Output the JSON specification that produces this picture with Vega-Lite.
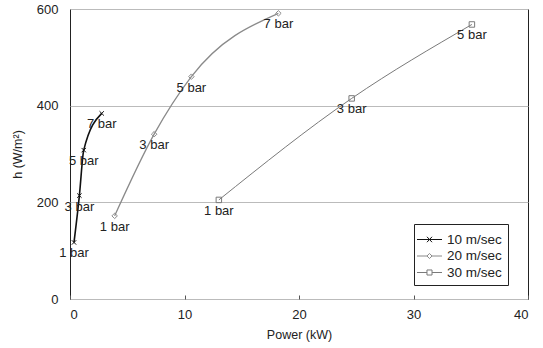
{
  "$schema": "https://vega.github.io/schema/vega-lite/v6.json",
  "width": 458,
  "height": 290,
  "autosize": {"type": "none"},
  "padding": {"left": 70, "top": 9, "right": 15, "bottom": 49},
  "background": "white",
  "config": {
    "font": "Liberation Sans",
    "view": {"stroke": "#222", "strokeWidth": 1},
    "axis": {"labelColor": "#222", "titleColor": "#222", "labelFontSize": 13, "titleFontSize": 12.5, "titleFontWeight": "normal", "domain": false}
  },
  "data": {
    "values": [
      {"series": "10 m/sec", "power": 0.35, "h": 117, "label": "1 bar"},
      {"series": "10 m/sec", "power": 0.82, "h": 214, "label": "3 bar"},
      {"series": "10 m/sec", "power": 1.2, "h": 308, "label": "5 bar"},
      {"series": "10 m/sec", "power": 2.77, "h": 384, "label": "7 bar"},
      {"series": "20 m/sec", "power": 3.9, "h": 172, "label": "1 bar"},
      {"series": "20 m/sec", "power": 7.35, "h": 341, "label": "3 bar"},
      {"series": "20 m/sec", "power": 10.6, "h": 460, "label": "5 bar"},
      {"series": "20 m/sec", "power": 18.2, "h": 591, "label": "7 bar"},
      {"series": "30 m/sec", "power": 13.0, "h": 205, "label": "1 bar"},
      {"series": "30 m/sec", "power": 24.6, "h": 415, "label": "3 bar"},
      {"series": "30 m/sec", "power": 35.1, "h": 568, "label": "5 bar"}
    ]
  },
  "encoding": {
    "x": {"field": "power", "type": "quantitative", "scale": {"domain": [0, 40], "nice": false},
      "axis": {"title": "Power (kW)", "values": [0, 10, 20, 30, 40], "grid": false, "tickSize": -4, "tickColor": "#555", "labelPadding": 13, "titlePadding": 7}},
    "y": {"field": "h", "type": "quantitative", "scale": {"domain": [0, 600], "nice": false},
      "axis": {"title": "h (W/m²)", "values": [0, 200, 400, 600], "grid": true, "gridColor": "#bbb", "ticks": false, "labelPadding": 12, "titlePadding": 12}}
  },
  "layer": [
    {
      "mark": {"type": "line", "interpolate": "monotone"},
      "encoding": {
        "stroke": {"field": "series", "type": "nominal", "scale": {"domain": ["10 m/sec", "20 m/sec", "30 m/sec"], "range": ["#111", "#8a8a8a", "#7a7a7a"]}, "legend": null},
        "strokeWidth": {"field": "series", "type": "nominal", "scale": {"domain": ["10 m/sec", "20 m/sec", "30 m/sec"], "range": [1.6, 1, 1]}, "legend": null}
      }
    },
    {
      "mark": {"type": "point", "filled": false, "size": 30, "strokeWidth": 1, "opacity": 1},
      "encoding": {
        "stroke": {"field": "series", "type": "nominal", "scale": {"domain": ["10 m/sec", "20 m/sec", "30 m/sec"], "range": ["#111", "#8a8a8a", "#7a7a7a"]}, "legend": null},
        "shape": {"field": "series", "type": "nominal", "scale": {"domain": ["10 m/sec", "20 m/sec", "30 m/sec"], "range": ["M-0.8,-0.8L0.8,0.8M-0.8,0.8L0.8,-0.8", "diamond", "square"]}, "legend": null}
      }
    },
    {
      "mark": {"type": "text", "align": "center", "baseline": "middle", "dy": 11, "fontSize": 13, "color": "#222"},
      "encoding": {"text": {"field": "label", "type": "nominal"}}
    },
    {
      "transform": [{"filter": "datum.h < 0"}],
      "mark": {"type": "point", "filled": false, "strokeWidth": 1},
      "encoding": {
        "stroke": {"field": "series", "type": "nominal", "scale": {"domain": ["10 m/sec", "20 m/sec", "30 m/sec"], "range": ["#111", "#8a8a8a", "#7a7a7a"]}, "legend": {"title": null}},
        "shape": {"field": "series", "type": "nominal",
          "scale": {"domain": ["10 m/sec", "20 m/sec", "30 m/sec"], "range": [
            "M-1.39,0L1.39,0M-0.28,-0.3L0.28,0.3M-0.28,0.3L0.28,-0.3",
            "M-1.39,0L-0.28,0M0.28,0L1.39,0M-0.28,0L0,-0.28L0.28,0L0,0.28Z",
            "M-1.39,0L-0.28,0M0.28,0L1.39,0M-0.28,-0.28L0.28,-0.28L0.28,0.28L-0.28,0.28Z"]},
          "legend": {"title": null, "orient": "none", "legendX": 344, "legendY": 215, "padding": 6, "fillColor": "white", "strokeColor": "#222", "symbolSize": 324, "symbolStrokeWidth": 1, "symbolOpacity": 1, "symbolFillColor": "transparent", "labelFontSize": 13.5, "labelColor": "#222", "labelOffset": 8, "rowPadding": 0.5, "labelFont": "Liberation Sans"}}
      }
    }
  ],
  "resolve": {"scale": {"shape": "independent", "stroke": "independent"}, "legend": {"shape": "independent", "stroke": "independent"}}
}
